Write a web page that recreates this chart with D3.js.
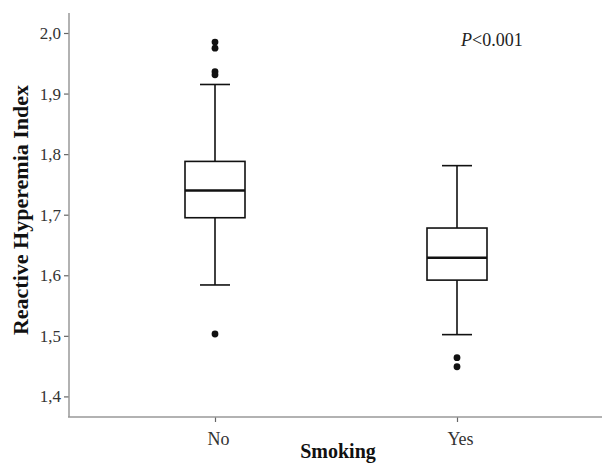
<!DOCTYPE html>
<html><head><meta charset="utf-8">
<script src="https://cdn.jsdelivr.net/npm/d3@7/dist/d3.min.js"></script>
<style>body{margin:0;background:#fff}svg{display:block}</style>
</head><body>
<script>
const categories = ["No", "Yes"];
const q1 = [1.695, 1.592];
const median = [1.740, 1.629];
const q3 = [1.788, 1.678];
const whiskerLow = [1.584, 1.502];
const whiskerHigh = [1.915, 1.781];
const outliers = [[1.985, 1.975, 1.936, 1.931, 1.503], [1.464, 1.449]];
const yTicks = [1.4, 1.5, 1.6, 1.7, 1.8, 1.9, 2.0];

const W = 602, H = 464;
const svg = d3.select("body").append("svg").attr("width", W).attr("height", H);
const font = "'Liberation Serif','Times New Roman',serif";

const y = d3.scaleLinear().domain([1.366, 2.0]).range([417, 33]);
const x = d3.scalePoint().domain(categories).range([215, 457]);
const boxW = 60, capW = 30;

// axes
const yAxis = svg.append("g").attr("transform", "translate(69,0)")
  .call(d3.axisLeft(y).tickValues(yTicks).tickSize(5).tickPadding(3)
    .tickFormat(d => d3.format(".1f")(d).replace(".", ",")));
yAxis.select(".domain").remove();
yAxis.append("line").attr("x1", 0).attr("x2", 0).attr("y1", 13).attr("y2", 417)
  .attr("stroke", "#999").attr("stroke-width", 1.5);
yAxis.selectAll(".tick line").attr("stroke", "#666").attr("stroke-width", 1.2);
yAxis.selectAll("text").attr("font-family", font).attr("font-size", 17).attr("fill", "#333");

const xAxis = svg.append("g").attr("transform", "translate(0,417)")
  .call(d3.axisBottom(x).tickSize(5).tickPadding(10));
xAxis.select(".domain").remove();
xAxis.append("line").attr("x1", 68).attr("x2", W).attr("y1", 0).attr("y2", 0)
  .attr("stroke", "#999").attr("stroke-width", 1.5);
xAxis.selectAll(".tick line").attr("stroke", "#666").attr("stroke-width", 1.2);
xAxis.selectAll("text").attr("font-family", font).attr("font-size", 18).attr("fill", "#333")
  .attr("dx", 3);

// boxes
const g = svg.append("g").attr("stroke", "#111").attr("fill", "none");
categories.forEach((c, i) => {
  const cx = x(c);
  g.append("line").attr("x1", cx).attr("x2", cx).attr("y1", y(whiskerHigh[i])).attr("y2", y(q3[i])).attr("stroke-width", 1.6);
  g.append("line").attr("x1", cx).attr("x2", cx).attr("y1", y(q1[i])).attr("y2", y(whiskerLow[i])).attr("stroke-width", 1.6);
  g.append("line").attr("x1", cx - capW / 2).attr("x2", cx + capW / 2).attr("y1", y(whiskerHigh[i])).attr("y2", y(whiskerHigh[i])).attr("stroke-width", 1.6);
  g.append("line").attr("x1", cx - capW / 2).attr("x2", cx + capW / 2).attr("y1", y(whiskerLow[i])).attr("y2", y(whiskerLow[i])).attr("stroke-width", 1.6);
  g.append("rect").attr("x", cx - boxW / 2).attr("width", boxW).attr("y", y(q3[i])).attr("height", y(q1[i]) - y(q3[i])).attr("stroke-width", 1.6).attr("fill", "#fff");
  g.append("line").attr("x1", cx - boxW / 2).attr("x2", cx + boxW / 2).attr("y1", y(median[i])).attr("y2", y(median[i])).attr("stroke-width", 2.6);
  outliers[i].forEach(v => {
    svg.append("circle").attr("cx", cx).attr("cy", y(v)).attr("r", 3.4).attr("fill", "#111");
  });
});

// titles
svg.append("text").attr("transform", "translate(28,210) rotate(-90)").attr("text-anchor", "middle")
  .attr("font-family", font).attr("font-weight", "bold").attr("font-size", 22).attr("fill", "#111")
  .text("Reactive Hyperemia Index");
svg.append("text").attr("x", 338).attr("y", 458).attr("text-anchor", "middle")
  .attr("font-family", font).attr("font-weight", "bold").attr("font-size", 20).attr("fill", "#111")
  .text("Smoking");
const p = svg.append("text").attr("x", 461).attr("y", 46).attr("font-family", font).attr("font-size", 18).attr("fill", "#222");
p.append("tspan").attr("font-style", "italic").text("P");
p.append("tspan").text("<0.001");
</script>
</body></html>
